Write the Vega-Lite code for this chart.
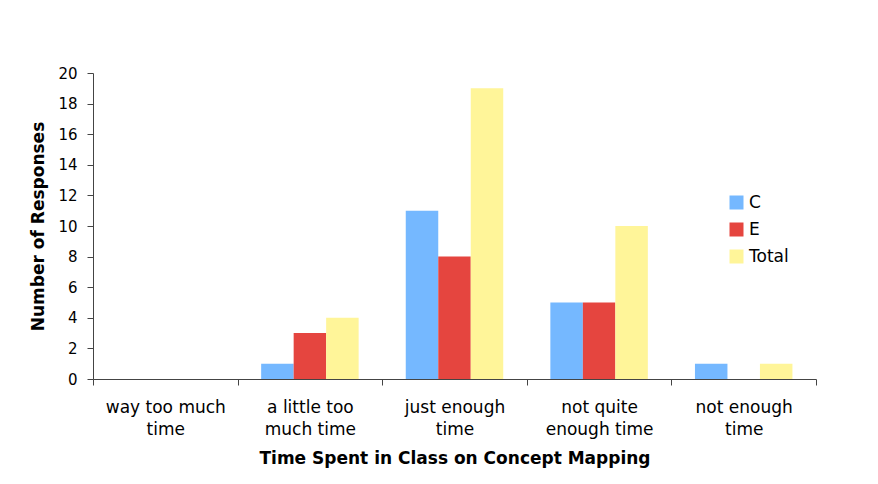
{
  "$schema": "https://vega.github.io/schema/vega-lite/v6.json",
  "width": 723,
  "height": 306,
  "autosize": {"type": "none"},
  "padding": {"left": 93, "top": 73, "right": 62, "bottom": 105},
  "background": "white",
  "config": {
    "view": {"stroke": null},
    "font": "DejaVu Sans",
    "axis": {"grid": false, "domainColor": "#444444", "tickColor": "#444444", "labelColor": "#000000", "titleColor": "#000000", "labelFont": "DejaVu Sans", "titleFont": "DejaVu Sans"}
  },
  "data": {
    "values": [
      {"time": "way too much time", "group": "C", "responses": 0},
      {"time": "way too much time", "group": "E", "responses": 0},
      {"time": "way too much time", "group": "Total", "responses": 0},
      {"time": "a little too much time", "group": "C", "responses": 1},
      {"time": "a little too much time", "group": "E", "responses": 3},
      {"time": "a little too much time", "group": "Total", "responses": 4},
      {"time": "just enough time", "group": "C", "responses": 11},
      {"time": "just enough time", "group": "E", "responses": 8},
      {"time": "just enough time", "group": "Total", "responses": 19},
      {"time": "not quite enough time", "group": "C", "responses": 5},
      {"time": "not quite enough time", "group": "E", "responses": 5},
      {"time": "not quite enough time", "group": "Total", "responses": 10},
      {"time": "not enough time", "group": "C", "responses": 1},
      {"time": "not enough time", "group": "E", "responses": 0},
      {"time": "not enough time", "group": "Total", "responses": 1}
    ]
  },
  "mark": {"type": "bar"},
  "encoding": {
    "x": {
      "field": "time",
      "type": "nominal",
      "sort": null,
      "scale": {"paddingInner": 0, "paddingOuter": 0},
      "axis": {
        "title": "Time Spent in Class on Concept Mapping",
        "titleFontSize": 17,
        "titleFontWeight": "bold",
        "titlePadding": 13,
        "labelFontSize": 17,
        "labelAngle": 0,
        "labelLineHeight": 22,
        "labelPadding": 14,
        "tickSize": 6,
        "tickBand": "extent",
        "labelExpr": "(datum.extra || datum.index < 0) ? '' : datum.label == 'way too much time' ? ['way too much', 'time'] : datum.label == 'a little too much time' ? ['a little too', 'much time'] : datum.label == 'just enough time' ? ['just enough', 'time'] : datum.label == 'not quite enough time' ? ['not quite', 'enough time'] : ['not enough', 'time']"
      }
    },
    "xOffset": {
      "field": "group",
      "type": "nominal",
      "scale": {"paddingInner": 0, "paddingOuter": 0.725}
    },
    "y": {
      "field": "responses",
      "type": "quantitative",
      "scale": {"domain": [0, 20], "nice": false},
      "axis": {
        "title": "Number of Responses",
        "titleFontSize": 17,
        "titleFontWeight": "bold",
        "titlePadding": 10,
        "labelFontSize": 15,
        "labelPadding": 10,
        "tickSize": 6,
        "values": [0, 2, 4, 6, 8, 10, 12, 14, 16, 18, 20]
      }
    },
    "color": {
      "field": "group",
      "type": "nominal",
      "scale": {"domain": ["C", "E", "Total"], "range": ["#75b8ff", "#e5453f", "#fff599"]},
      "legend": {
        "title": null,
        "orient": "none",
        "legendX": 635,
        "legendY": 121,
        "padding": 0,
        "symbolType": "square",
        "symbolSize": 196,
        "symbolStrokeWidth": 0,
        "symbolOpacity": 1,
        "labelFontSize": 17,
        "labelFont": "DejaVu Sans",
        "labelColor": "#000000",
        "labelOffset": 4,
        "rowPadding": 9
      }
    }
  }
}
